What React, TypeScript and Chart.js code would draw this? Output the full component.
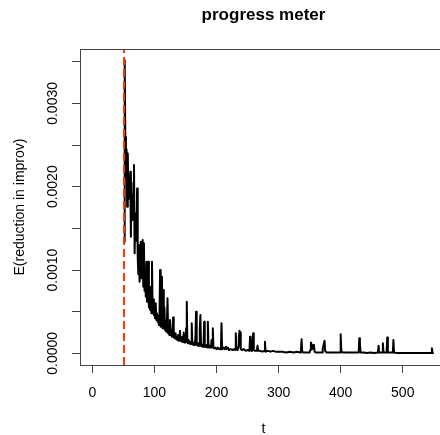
import React, { useEffect, useRef } from "react";
import { Chart, registerables } from "chart.js";

Chart.register(...registerables);

const TITLE = "progress meter";
const X_TITLE = "t";
const Y_TITLE = "E(reduction in improv)";

const xTickValues = [0, 100, 200, 300, 400, 500];
const xTickLabels = ["0", "100", "200", "300", "400", "500"];
const yTickValues = [0, 0.0005, 0.001, 0.0015, 0.002, 0.0025, 0.003, 0.0035];
const yTickLabels = ["0.0000", "", "0.0010", "", "0.0020", "", "0.0030", ""];

const xMin = -20;
const xMax = 571.3;
const yMin = -0.00014;
const yMax = 0.003653;

const markerT = 51;

// t = 51, 52, 53, ... 195 (one value per step)
const denseStartT = 51;
const denseE = [
  0.00134, 0.00352, 0.0026, 0.0021, 0.00245, 0.00176, 0.0024, 0.00185, 0.0021, 0.00195,
  0.00218, 0.0014, 0.00205, 0.00175, 0.0016, 0.0019, 0.00226, 0.0012, 0.00168, 0.0015,
  0.00135, 0.00198, 0.00115, 0.00095, 0.0013, 0.00086, 0.00105, 0.00134, 0.0009, 0.0011,
  0.00136, 0.0008, 0.00132, 0.00075, 0.00095, 0.00068, 0.0011, 0.00062, 0.00085, 0.0011,
  0.00055, 0.0007, 0.00052, 0.0008, 0.00048, 0.0011, 0.0005, 0.00065, 0.00046, 0.00058,
  0.00042, 0.0006, 0.0004, 0.00048, 0.00038, 0.00045, 0.00034, 0.0004, 0.001, 0.00032,
  0.0005, 0.00092, 0.0003, 0.00076, 0.0003, 0.00055, 0.00028, 0.0004, 0.00026, 0.00035,
  0.00066, 0.00024, 0.0003, 0.00022, 0.0004, 0.00022, 0.00028, 0.0002, 0.00026, 0.00043,
  0.00019, 0.00022, 0.00018, 0.00024, 0.00017, 0.0002, 0.00016, 0.00022, 0.00015, 0.00018,
  0.00027, 0.00015, 0.00017, 0.00014, 0.0002, 0.00014, 0.00025, 0.00013, 0.00015, 0.00013,
  0.0003, 0.00062, 0.00014, 0.00012, 0.00016, 0.00012, 0.00014, 0.00011, 0.00013, 0.00036,
  0.00011, 0.00013, 0.0001, 0.00012, 0.0001, 0.0002, 0.0005, 0.0001, 0.00012, 0.00009,
  0.00011, 0.00009, 0.0003, 0.00046, 0.00009, 0.0001, 0.00008, 0.00011, 0.00008, 0.00038,
  0.00008, 0.0001, 0.00008, 0.00009, 0.00007, 0.00038, 0.00008, 0.00007, 0.00009, 0.00007,
  0.00008, 0.00016, 0.00007, 0.0003, 0.00007,
];

const tailT = [
  196, 198, 200, 202, 204, 206, 207, 208, 209, 211, 213, 215, 216, 218, 220, 223, 226, 229, 230, 231,
  232, 234, 235, 236, 237, 238, 239, 241, 244, 247, 250, 253, 254, 255, 257, 258, 259, 260, 262, 265,
  266, 267, 270, 274, 277, 278, 279, 283, 287, 291, 295, 300, 306, 312, 318, 324, 330, 335, 336, 337,
  338, 340, 345, 350, 351, 352, 353, 354, 356, 357, 358, 360, 365, 370, 371, 373, 374, 375, 377, 382,
  388, 394, 399, 400, 401, 403, 408, 414, 420, 425, 429, 430, 431, 432, 437, 442, 448, 454, 460, 461,
  462, 467, 468, 469, 474, 475, 476, 480, 484, 485, 486, 490, 500, 510, 520, 530, 540, 546, 547, 548,
  550,
];
const tailE = [
  0.00006, 0.00007, 0.00005, 0.00007, 0.00005, 0.00006, 0.00005, 0.00036, 0.00005, 0.00007,
  0.00005, 0.00008, 0.00005, 0.00007, 0.00004, 0.00005, 0.00004, 0.00005, 0.00004, 0.00024,
  0.00006, 0.00004, 0.00008, 0.0002, 0.00027, 0.00025, 0.00005, 0.00004, 0.00005, 0.00003,
  0.00004, 0.00003, 0.0002, 0.00004, 0.00003, 0.0001, 0.00024, 0.00004, 0.00003, 0.00003,
  0.00009, 0.00003, 0.00003, 0.00002, 0.00003, 0.00014, 0.00002, 0.00003, 0.00002, 0.00003,
  0.00002, 0.00002, 0.00002, 0.00001, 0.00002, 0.00001, 0.00002, 0.00001, 0.00004, 0.00017,
  0.00002, 0.00001, 0.00001, 0.00001, 0.00004, 0.00013, 0.00011, 0.00005, 0.0001, 0.00009,
  0.00002, 0.00001, 0.00001, 0.00001, 0.00005, 0.00012, 0.00015, 0.00003, 0.00001, 0.00001,
  0.00001, 0.00001, 0.00001, 0.00023, 0.00003, 0.00001, 0.00001, 0.00001, 0.00001, 0.00001,
  0.00001, 0.00018, 0.00012, 0.00001, 0.00001, 0.000005, 0.00001, 0.000005, 0.00001, 0.00009,
  0.00001, 0.00001, 0.00012, 0.00001, 0.00001, 0.00019, 0.00001, 0.00001, 0.00001, 0.00016,
  0.00001, 0.000005, 0.000005, 0.000005, 0.000005, 0.000005, 0.000005, 0.000005, 0.00006, 0.000005,
  0.000005,
];

const AXIS_COLOR = "#444";
const FONT_FAMILY = "'Liberation Sans', Arial, Helvetica, sans-serif";

const boxPlugin = {
  id: "plotBox",
  afterDraw(chart: any) {
    const { ctx, chartArea } = chart;
    const { left, top, right, bottom } = chartArea;
    ctx.save();
    ctx.strokeStyle = AXIS_COLOR;
    ctx.lineWidth = 1;
    ctx.strokeRect(
      Math.round(left) + 0.5,
      Math.round(top) + 0.5,
      Math.round(right - left),
      Math.round(bottom - top)
    );
    ctx.restore();
  },
};

export default function App() {
  const ref = useRef<HTMLCanvasElement>(null);

  useEffect(() => {
    if (!ref.current) return;
    Chart.defaults.font.family = FONT_FAMILY;
    Chart.defaults.font.size = 14;
    Chart.defaults.color = "#000";

    const points = denseE
      .map((e, i) => ({ x: denseStartT + i, y: e }))
      .concat(tailT.map((t, i) => ({ x: t, y: tailE[i] })));

    const chart = new Chart(ref.current, {
      type: "line",
      data: {
        datasets: [
          {
            label: "start",
            data: [
              { x: markerT, y: yMin },
              { x: markerT, y: yMax },
            ],
            borderColor: "#ff3300",
            borderWidth: 2,
            borderDash: [8, 4],
            pointRadius: 0,
            fill: false,
          },
          {
            label: "E",
            data: points,
            borderColor: "#000",
            borderWidth: 2,
            pointRadius: 0,
            tension: 0,
            fill: false,
            borderJoinStyle: "round",
          },
        ],
      },
      options: {
        animation: false,
        responsive: false,
        maintainAspectRatio: false,
        events: [],
        layout: { padding: { left: 0, right: 3, top: 0, bottom: 0 } },
        plugins: {
          legend: { display: false },
          tooltip: { enabled: false },
          title: {
            display: true,
            text: TITLE,
            fullSize: false,
            color: "#000",
            font: { size: 17, weight: "bold", family: FONT_FAMILY },
            padding: { top: 5, bottom: 23.6 },
          },
        },
        scales: {
          x: {
            type: "linear",
            position: "bottom",
            min: xMin,
            max: xMax,
            afterBuildTicks: (s: any) => {
              s.ticks = xTickValues.map((v) => ({ value: v }));
            },
            afterFit: (s: any) => {
              s.height = 75;
            },
            ticks: {
              callback: (_v: any, i: number) => xTickLabels[i],
              padding: 12,
              minRotation: 0,
              maxRotation: 0,
              autoSkip: false,
              color: "#000",
              font: { size: 14 },
            },
            grid: { drawOnChartArea: false, drawTicks: true, tickLength: 8, color: AXIS_COLOR, lineWidth: 1 },
            border: { display: true, color: AXIS_COLOR, width: 1 },
            title: {
              display: true,
              text: X_TITLE,
              color: "#000",
              font: { size: 14 },
              padding: { top: 0, bottom: 2.6 },
            },
          },
          y: {
            type: "linear",
            position: "left",
            min: yMin,
            max: yMax,
            afterBuildTicks: (s: any) => {
              s.ticks = yTickValues.map((v) => ({ value: v }));
            },
            afterFit: (s: any) => {
              s.width = 80;
            },
            ticks: {
              callback: (_v: any, i: number) => yTickLabels[i],
              minRotation: 90,
              maxRotation: 90,
              crossAlign: "center",
              padding: -3,
              autoSkip: false,
              color: "#000",
              font: { size: 14 },
            },
            grid: { drawOnChartArea: false, drawTicks: true, tickLength: 8, color: AXIS_COLOR, lineWidth: 1 },
            border: { display: true, color: AXIS_COLOR, width: 1 },
            title: {
              display: true,
              text: Y_TITLE,
              color: "#000",
              font: { size: 14 },
              padding: { top: 11.6, bottom: 0 },
            },
          },
        },
      },
      plugins: [boxPlugin],
    } as any);

    return () => chart.destroy();
  }, []);

  return (
    <div
      style={{
        position: "fixed",
        left: 0,
        top: 0,
        width: 440,
        height: 435,
        overflow: "hidden",
        background: "#fff",
      }}
    >
      <canvas ref={ref} width={450} height={440} style={{ display: "block", width: 450, height: 440 }} />
    </div>
  );
}
